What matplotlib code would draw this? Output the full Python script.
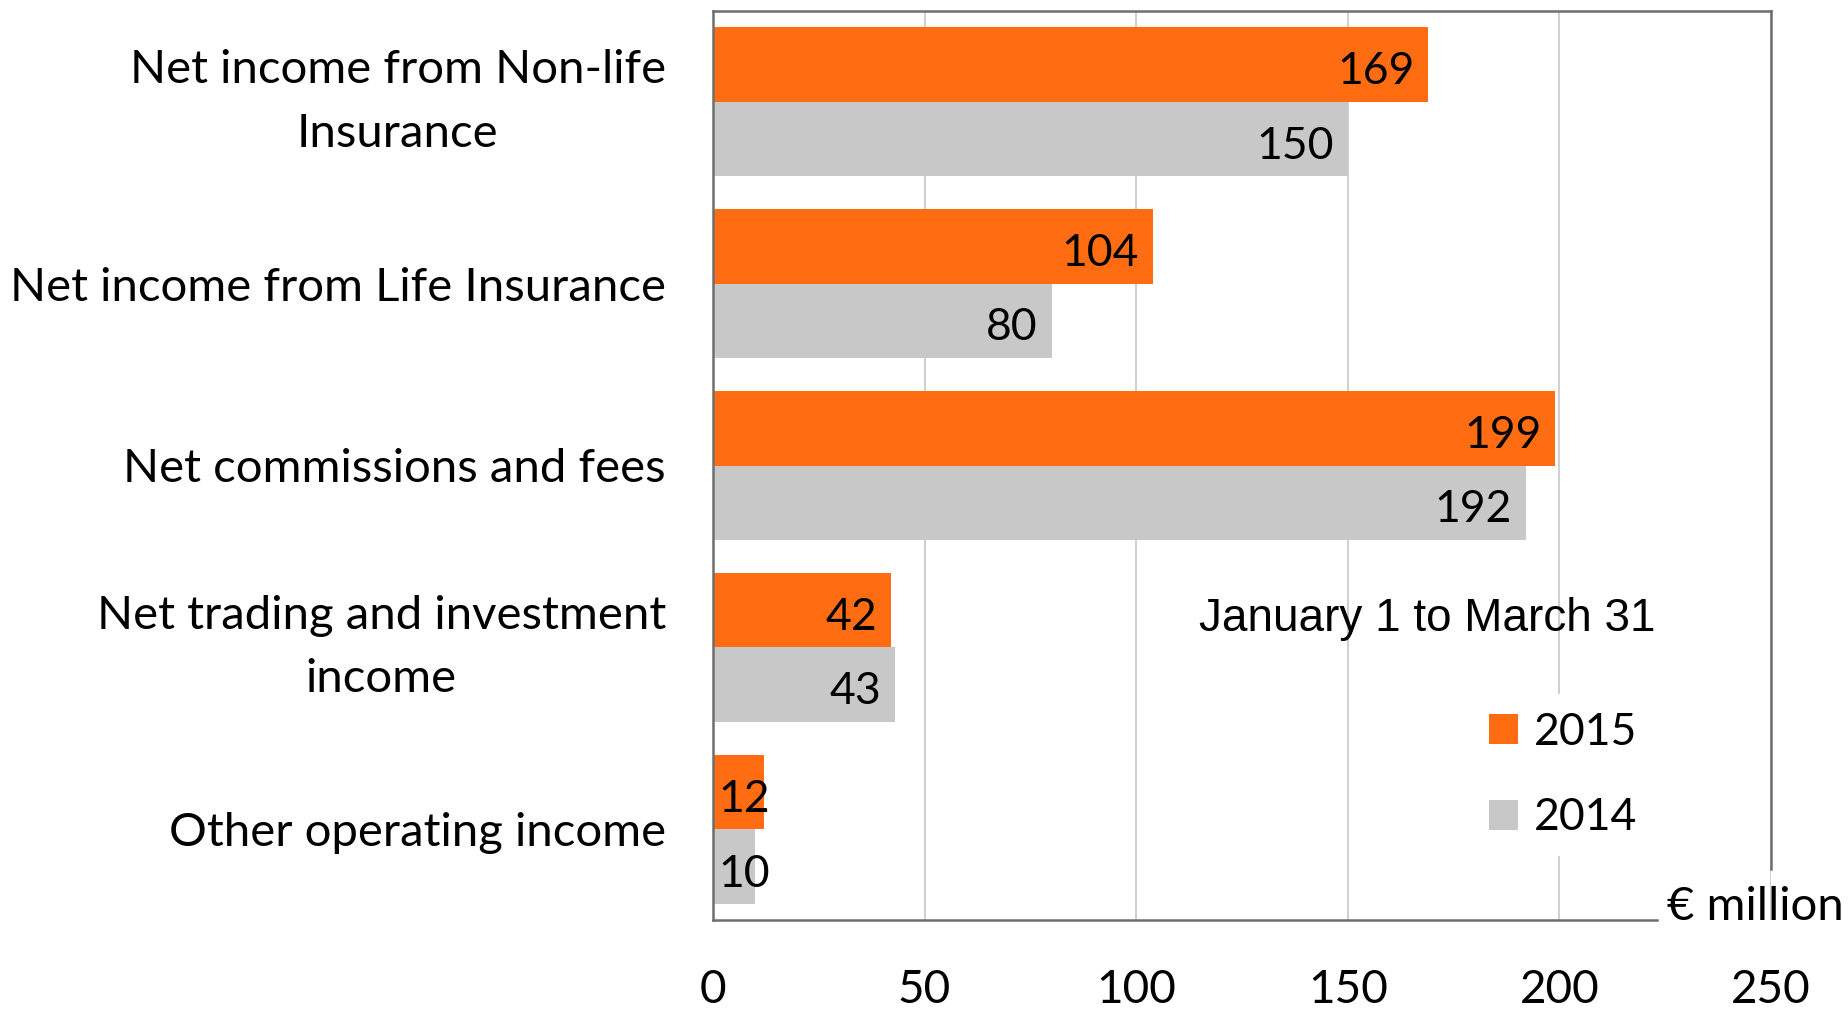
import matplotlib
matplotlib.use("Agg")
import matplotlib.pyplot as plt
from matplotlib.patches import Patch
from matplotlib.transforms import offset_copy

categories = ["Net income from Non-life\nInsurance",
              "Net income from Life Insurance",
              "Net commissions and fees",
              "Net trading and investment\nincome",
              "Other operating income"]
values_2015 = [169, 104, 199, 42, 12]
values_2014 = [150, 80, 192, 43, 10]
series_names = ["2015", "2014"]
x_ticks = [0, 50, 100, 150, 200, 250]
unit_label = "€ million"
period_label = "January 1 to March 31"

ORANGE = "#FF6C11"
GREY = "#C8C8C8"
FONT = "Lato"
FS = 32

W, H = 1849, 1009
fig = plt.figure(figsize=(W / 100, H / 100), dpi=100)
ax = fig.add_axes([713 / W, 1 - 920 / H, (1771 - 713) / W, (920 - 11) / H])

ypos = list(range(len(categories)))
bh = 0.41
y_o = [y - bh / 2 for y in ypos]
y_g = [y + bh / 2 for y in ypos]
ax.barh(y_o, values_2015, height=bh, color=ORANGE, zorder=2, label=series_names[0])
ax.barh(y_g, values_2014, height=bh, color=GREY, zorder=2, label=series_names[1])

ax.set_xlim(0, 250)
ax.set_ylim(len(categories) - 0.5, -0.5)
ax.set_xticks(x_ticks)
ax.set_xticklabels([str(t) for t in x_ticks])
ax.set_yticks(ypos)
ax.set_yticklabels(categories, multialignment="center", linespacing=1.63)
ax.tick_params(axis="both", length=0)
ax.tick_params(axis="x", pad=35, labelsize=33)
ax.tick_params(axis="y", pad=34, labelsize=34)
for lab in ax.get_xticklabels() + ax.get_yticklabels():
    lab.set_fontfamily(FONT)
for lab in ax.get_yticklabels():
    if "\n" in lab.get_text():
        lab.set_verticalalignment("center")

ax.grid(axis="x", color="#CFCFCF", linewidth=1.4, zorder=0)
ax.set_axisbelow(True)
for s in ax.spines.values():
    s.set_color("#6E6E6E")
    s.set_linewidth(1.8)
ax.spines["bottom"].set_bounds(0, 223)
ax.spines["right"].set_bounds(len(categories) - 0.5 - 0.28, -0.5)

def add_labels(yvals, vals):
    for y, v in zip(yvals, vals):
        if v < 20:
            tr = offset_copy(ax.transData, fig=fig, x=5, y=-8, units="dots")
            ax.text(0, y, str(v), ha="left", va="center", fontsize=FS,
                    fontfamily=FONT, transform=tr, zorder=3)
        else:
            tr = offset_copy(ax.transData, fig=fig, x=-14, y=-7, units="dots")
            ax.text(v, y, str(v), ha="right", va="center", fontsize=FS,
                    fontfamily=FONT, transform=tr, zorder=3)

add_labels(y_o, values_2015)
add_labels(y_g, values_2014)

handles = [Patch(facecolor=ORANGE, edgecolor="none"), Patch(facecolor=GREY, edgecolor="none")]
leg = fig.legend(handles, series_names, loc="center left",
                 bbox_to_anchor=(1471 / W, 1 - 775 / H),
                 frameon=True, fancybox=False, framealpha=1,
                 facecolor="white", edgecolor="none",
                 handlelength=0.66, handleheight=0.66, handletextpad=0.36,
                 labelspacing=1.0, borderpad=0.4, borderaxespad=0,
                 prop={"family": FONT, "size": FS})

fig.text(1199 / W, 1 - 619 / H, period_label, ha="left", va="center",
         fontsize=33, fontfamily="Liberation Sans")
fig.text(1667 / W, 1 - 907 / H, unit_label, ha="left", va="center",
         fontsize=34, fontfamily=FONT)

fig.savefig("out.png", dpi=100, facecolor="white")
